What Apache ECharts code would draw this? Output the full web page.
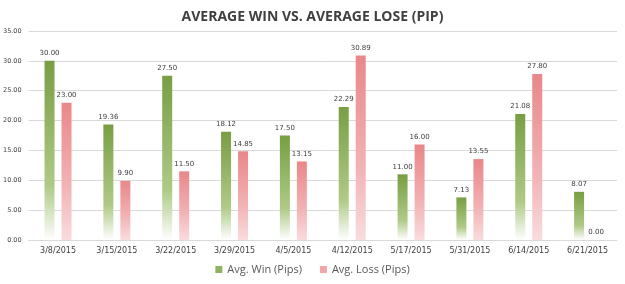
<!DOCTYPE html>
<html>
<head>
<meta charset="utf-8">
<script src="https://cdn.jsdelivr.net/npm/echarts@6/dist/echarts.min.js"></script>
<style>
  html, body { margin: 0; padding: 0; background: #fff; }
  #chart { width: 625px; height: 284px; }
</style>
</head>
<body>
<div id="chart"></div>
<script>
const categories = ['3/8/2015', '3/15/2015', '3/22/2015', '3/29/2015', '4/5/2015',
  '4/12/2015', '5/17/2015', '5/31/2015', '6/14/2015', '6/21/2015']
const avgWin = [30.00, 19.36, 27.50, 18.12, 17.50, 22.29, 11.00, 7.13, 21.08, 8.07]
const avgLoss = [23.00, 9.90, 11.50, 14.85, 13.15, 30.89, 16.00, 13.55, 27.80, 0.00]

const chart = echarts.init(document.getElementById('chart'))

// gradient fills, fade toward the axis
const greenFill = new echarts.graphic.LinearGradient(0, 0, 0, 1, [
  { offset: 0, color: '#789e43' },
  { offset: 0.7, color: '#afca87' },
  { offset: 1, color: '#ffffff' }
], false)
const redFill = new echarts.graphic.LinearGradient(0, 0, 0, 1, [
  { offset: 0, color: '#e9878a' },
  { offset: 0.6, color: '#f2b2b4' },
  { offset: 1, color: '#f9dcdd' }
], false)

const labelStyle = {
  show: true,
  position: 'top',
  distance: 4,
  fontSize: 7,
  color: '#404040',
  fontFamily: 'DejaVu Sans',
  formatter: p => p.value.toFixed(2)
}

chart.setOption({
  animation: false,
  title: {
    text: 'AVERAGE WIN VS. AVERAGE LOSE (PIP)',
    left: 'center',
    top: 5,
    textStyle: { fontSize: 14, fontWeight: 'bold', color: '#404040', fontFamily: 'Open Sans' }
  },
  legend: {
    bottom: 4,
    itemWidth: 7,
    itemHeight: 7,
    itemGap: 18,
    icon: 'rect',
    textStyle: { fontSize: 11, color: '#595959', fontFamily: 'Open Sans' },
    data: [
      { name: 'Avg. Win (Pips)', itemStyle: { color: '#8fb35e' } },
      { name: 'Avg. Loss (Pips)', itemStyle: { color: '#f2a5a7' } }
    ]
  },
  grid: { left: 27, right: 8, top: 31, bottom: 44 },
  xAxis: {
    type: 'category',
    data: categories,
    axisLine: { lineStyle: { color: '#d9d9d9' } },
    axisTick: { show: false },
    axisLabel: { fontSize: 8, color: '#404040', margin: 7, fontFamily: 'DejaVu Sans', interval: 0 }
  },
  yAxis: {
    type: 'value',
    min: 0,
    max: 35,
    interval: 5,
    axisLine: { show: false },
    axisTick: { show: false },
    splitLine: { lineStyle: { color: '#d9d9d9' } },
    axisLabel: {
      fontSize: 6.5,
      color: '#404040',
      margin: 7,
      fontFamily: 'DejaVu Sans',
      formatter: v => v.toFixed(2)
    }
  },
  series: [
    {
      name: 'Avg. Win (Pips)',
      type: 'bar',
      data: avgWin,
      barWidth: 10,
      barGap: '70%',
      itemStyle: { color: greenFill },
      label: labelStyle
    },
    {
      name: 'Avg. Loss (Pips)',
      type: 'bar',
      data: avgLoss,
      barWidth: 10,
      itemStyle: { color: redFill },
      label: labelStyle
    }
  ]
})
</script>
</body>
</html>
